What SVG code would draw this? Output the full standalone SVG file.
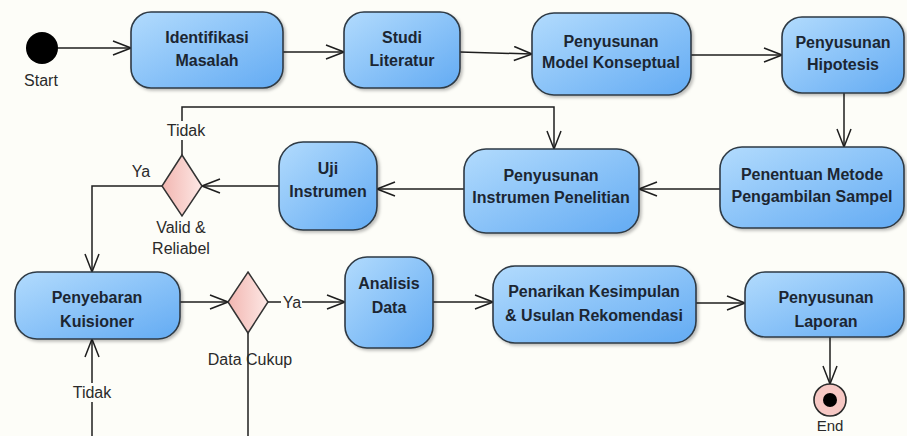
<svg xmlns="http://www.w3.org/2000/svg" width="907" height="436" viewBox="0 0 907 436">
  <style>
    .node rect { fill: url(#actFill); stroke: #2f3a45; stroke-width: 1.6; filter: url(#shadow); }
    .node text { font-family: "Liberation Sans", Arial, sans-serif; font-size: 16px; font-weight: bold; fill: #1c2632; text-anchor: middle; }
    .decision polygon { fill: url(#decFill); stroke: #333; stroke-width: 1.5; }
    .label { font-family: "Liberation Sans", Arial, sans-serif; font-size: 16px; fill: #2a2a2a; text-anchor: middle; }
    .edge { fill: none; stroke: #1e1e1e; stroke-width: 1.5; marker-end: url(#open); }
    .edge-plain { fill: none; stroke: #1e1e1e; stroke-width: 1.5; }
    .bg { fill: #fdfdf8; }
  </style>
  <defs>
    <linearGradient id="actFill" x1="0" y1="0" x2="1" y2="1">
      <stop offset="0" stop-color="#b2dbfd"/>
      <stop offset="1" stop-color="#63abf3"/>
    </linearGradient>
    <linearGradient id="decFill" x1="0" y1="0" x2="1" y2="0">
      <stop offset="0" stop-color="#f2b6b1"/>
      <stop offset="1" stop-color="#fde8e5"/>
    </linearGradient>
    <filter id="shadow" x="-10%" y="-10%" width="125%" height="130%">
      <feDropShadow dx="2" dy="2" stdDeviation="1.5" flood-color="#000" flood-opacity="0.25"/>
    </filter>
    <marker id="open" viewBox="0 0 20 16" refX="19" refY="8" markerWidth="20" markerHeight="16" markerUnits="userSpaceOnUse" orient="auto">
      <path d="M1,1 L19,8 L1,15" fill="none" stroke="#1e1e1e" stroke-width="1.5"/>
    </marker>
  </defs>

  <rect class="bg" x="0" y="0" width="907" height="436"/>

  <!-- connectors -->
  <g id="connectors">
    <path class="edge" d="M58,48 L131,48"/>
    <path class="edge" d="M283,52 L344,52"/>
    <path class="edge" d="M460,52 L532,54"/>
    <path class="edge" d="M691,55 L782,55"/>
    <path class="edge" d="M844,93 L844,147"/>
    <path class="edge" d="M720,189 L639,189"/>
    <path class="edge" d="M464,189 L377,189"/>
    <path class="edge" d="M279,186 L202,186"/>
    <path class="edge" d="M182,155 L182,107 L554,107 L554,149"/>
    <path class="edge" d="M162,186 L92,186 L92,272"/>
    <path class="edge" d="M180,302 L228,302"/>
    <path class="edge" d="M268,302 L345,302"/>
    <path class="edge-plain" d="M248,333 L248,436"/>
    <path class="edge" d="M92,436 L92,339"/>
    <path class="edge" d="M433,302 L493,302"/>
    <path class="edge" d="M696,303 L745,303"/>
    <path class="edge" d="M830,337 L830,384"/>
    <!-- guard labels sit on a background patch that breaks the line -->
    <rect class="bg" x="164" y="121" width="40" height="19"/>
    <text class="label" x="186" y="136">Tidak</text>
    <text class="label" x="141" y="177">Ya</text>
    <rect class="bg" x="281" y="293" width="21" height="18"/>
    <text class="label" x="292" y="308">Ya</text>
    <rect class="bg" x="72" y="383" width="42" height="19"/>
    <text class="label" x="92" y="398">Tidak</text>
  </g>

  <!-- start / end -->
  <g id="start">
    <circle cx="42" cy="48" r="16" fill="#000"/>
    <text class="label" x="41" y="86">Start</text>
  </g>
  <g id="end">
    <circle cx="830" cy="400" r="16" fill="#f6c8c4" stroke="#2a2a2a" stroke-width="1.6"/>
    <circle cx="830" cy="400" r="7" fill="#000"/>
    <text class="label" x="830" y="431" style="font-size:15px">End</text>
  </g>

  <!-- activities -->
  <g id="identifikasi" class="node">
    <rect x="131" y="12" width="152" height="76" rx="20"/>
    <text x="207" y="43">Identifikasi</text>
    <text x="207" y="66">Masalah</text>
  </g>
  <g id="studi" class="node">
    <rect x="344" y="12" width="116" height="76" rx="20"/>
    <text x="402" y="43">Studi</text>
    <text x="402" y="66">Literatur</text>
  </g>
  <g id="model" class="node">
    <rect x="532" y="13" width="159" height="82" rx="22"/>
    <text x="611" y="47">Penyusunan</text>
    <text x="611" y="68">Model Konseptual</text>
  </g>
  <g id="hipotesis" class="node">
    <rect x="782" y="17" width="122" height="76" rx="20"/>
    <text x="843" y="48">Penyusunan</text>
    <text x="843" y="70">Hipotesis</text>
  </g>
  <g id="penentuan" class="node">
    <rect x="720" y="147" width="184" height="81" rx="22"/>
    <text x="812" y="180">Penentuan Metode</text>
    <text x="812" y="202">Pengambilan Sampel</text>
  </g>
  <g id="instrumen" class="node">
    <rect x="464" y="149" width="175" height="84" rx="22"/>
    <text x="551" y="181">Penyusunan</text>
    <text x="551" y="203">Instrumen Penelitian</text>
  </g>
  <g id="uji" class="node">
    <rect x="279" y="142" width="98" height="88" rx="24"/>
    <text x="328" y="174">Uji</text>
    <text x="328" y="197">Instrumen</text>
  </g>
  <g id="penyebaran" class="node">
    <rect x="15" y="272" width="165" height="67" rx="22"/>
    <text x="97" y="303">Penyebaran</text>
    <text x="97" y="327">Kuisioner</text>
  </g>
  <g id="analisis" class="node">
    <rect x="345" y="257" width="88" height="91" rx="22"/>
    <text x="389" y="289">Analisis</text>
    <text x="389" y="313">Data</text>
  </g>
  <g id="penarikan" class="node">
    <rect x="493" y="266" width="203" height="77" rx="22"/>
    <text x="594" y="297">Penarikan Kesimpulan</text>
    <text x="594" y="321">&amp; Usulan Rekomendasi</text>
  </g>
  <g id="laporan" class="node">
    <rect x="745" y="272" width="159" height="65" rx="20"/>
    <text x="826" y="303">Penyusunan</text>
    <text x="826" y="327">Laporan</text>
  </g>

  <!-- decisions -->
  <g id="valid" class="decision">
    <polygon points="182,155 202,186 182,216 162,186"/>
    <text class="label" x="181" y="233">Valid &amp;</text>
    <text class="label" x="181" y="254">Reliabel</text>
  </g>
  <g id="cukup" class="decision">
    <polygon points="248,272 268,302 248,333 228,302"/>
    <text class="label" x="250" y="365">Data Cukup</text>
  </g>
</svg>
